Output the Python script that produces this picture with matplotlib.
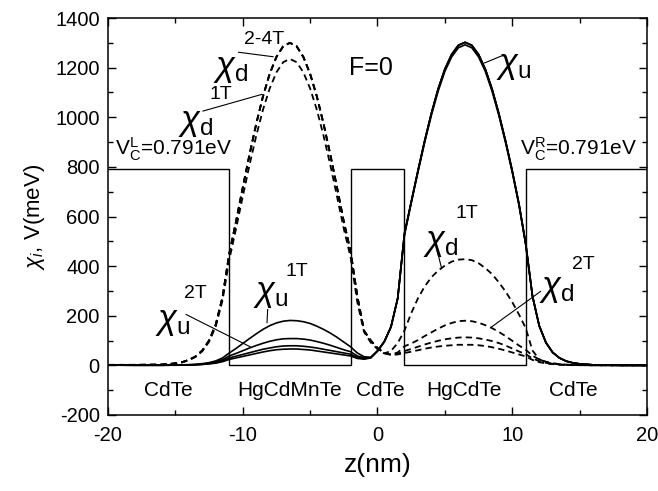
import matplotlib
matplotlib.use("Agg")
import matplotlib.pyplot as plt
from matplotlib.ticker import MultipleLocator

plt.rcParams['font.family'] = ['Liberation Sans', 'DejaVu Sans']
plt.rcParams['mathtext.fontset'] = 'custom'
plt.rcParams['mathtext.rm'] = 'Liberation Sans'
plt.rcParams['mathtext.it'] = 'Liberation Sans:italic'
plt.rcParams['mathtext.bf'] = 'Liberation Sans:bold'
plt.rcParams['axes.unicode_minus'] = False

# ---------------- data ----------------
z = [-20, -18, -16,
     -15, -14.5, -14, -13.5, -13, -12.5, -12, -11.5, -11,
     -10.5, -10, -9.5, -9, -8.5, -8, -7.5, -7, -6.5, -6, -5.5, -5, -4.5, -4, -3.5, -3, -2.5, -2,
     -1.5, -1, -0.5, 0, 0.5, 1, 1.5, 2,
     2.5, 3, 3.5, 4, 4.5, 5, 5.5, 6, 6.5, 7, 7.5, 8, 8.5, 9, 9.5, 10, 10.5, 11,
     11.5, 12, 12.5, 13, 13.5, 14, 14.5, 15,
     16, 18, 20]

# spin-down (dashed) densities
chi_d_1T = [2, 2, 3,
            7, 12, 21, 34, 57, 95, 157, 262, 425,
            550, 680, 807, 925, 1030, 1116, 1181, 1222, 1235, 1222, 1181, 1116, 1030, 925, 807, 680, 550, 437,
            255, 135, 92, 65, 48, 58, 90, 140,
            210, 270, 318, 355, 382, 402, 418, 426, 428, 424, 412, 392, 368, 335, 298, 255, 205, 150,
            60, 25, 12, 6, 3, 2, 1, 1,
            0.5, 0, 0]
chi_d_2T = [2, 2, 3,
            8, 13, 22, 36, 60, 100, 165, 275, 450,
            579, 716, 849, 973, 1084, 1175, 1243, 1286, 1300, 1286, 1243, 1175, 1084, 973, 849, 716, 579, 460,
            280, 140, 100, 70, 50, 44, 52, 77,
            88, 102, 118, 133, 148, 161, 171, 178, 180, 178, 172, 162, 150, 135, 118, 99, 80, 63,
            39, 24, 15, 9, 5, 3, 2, 1,
            0.5, 0, 0]
chi_d_3T = [2, 2, 3,
            8, 13, 22, 36, 60, 100, 165, 275, 450,
            579, 716, 849, 973, 1084, 1175, 1243, 1286, 1300, 1286, 1243, 1175, 1084, 973, 849, 716, 579, 460,
            280, 140, 100, 70, 50, 43, 47, 58,
            66, 75, 84, 92, 99, 105, 109, 112, 113, 112, 109, 104, 98, 90, 80, 68, 56, 45,
            28, 17, 10, 6, 4, 2, 1, 1,
            0.5, 0, 0]
chi_d_4T = [2, 2, 3,
            8, 13, 22, 36, 60, 100, 165, 275, 450,
            579, 716, 849, 973, 1084, 1175, 1243, 1286, 1300, 1286, 1243, 1175, 1084, 973, 849, 716, 579, 460,
            280, 140, 100, 70, 49, 42, 44, 50,
            55, 61, 67, 72, 76, 79, 81, 83, 83, 83, 81, 78, 73, 67, 60, 52, 44, 36,
            22, 13, 8, 5, 3, 2, 1, 1,
            0.5, 0, 0]

# spin-up (solid) densities
chi_u_1T = [1, 0.5, 0.5,
            1, 2, 3, 4, 7, 11, 18, 30, 50,
            68, 88, 108, 127, 145, 160, 171, 178, 181, 180, 176, 169, 158, 145, 130, 113, 94, 75,
            50, 35, 32, 58, 95, 155, 270, 525,
            653, 778, 898, 1008, 1105, 1185, 1243, 1280, 1292, 1280, 1243, 1185, 1105, 1008, 898, 778, 645, 486,
            278, 159, 91, 52, 30, 17, 10, 6,
            2, 0.5, 0.3]
chi_u_2T = [1, 0.5, 0.5,
            1, 1, 2, 3, 5, 9, 14, 23, 38,
            48, 59, 70, 80, 89, 97, 103, 107, 108, 108, 106, 102, 96, 89, 81, 72, 63, 55,
            38, 30, 32, 58, 95, 155, 270, 530,
            658, 784, 905, 1016, 1114, 1194, 1253, 1290, 1302, 1290, 1253, 1194, 1114, 1016, 905, 784, 650, 490,
            280, 160, 92, 52, 30, 17, 10, 6,
            2, 0.5, 0.3]
chi_u_3T = [1, 0.5, 0.5,
            1, 1, 2, 3, 4, 7, 11, 18, 30,
            37, 44, 51, 58, 65, 70, 75, 78, 79, 79, 77, 74, 70, 65, 60, 55, 50, 45,
            32, 27, 31, 58, 95, 155, 270, 530,
            658, 784, 905, 1016, 1114, 1194, 1253, 1290, 1302, 1290, 1253, 1194, 1114, 1016, 905, 784, 650, 490,
            280, 160, 92, 52, 30, 17, 10, 6,
            2, 0.5, 0.3]
chi_u_4T = [1, 0.5, 0.5,
            0.5, 1, 1, 2, 4, 6, 9, 15, 24,
            30, 36, 42, 48, 54, 59, 63, 65, 66, 66, 64, 62, 58, 54, 50, 46, 42, 38,
            28, 25, 30, 58, 95, 155, 270, 530,
            658, 784, 905, 1016, 1114, 1194, 1253, 1290, 1302, 1290, 1253, 1194, 1114, 1016, 905, 784, 650, 490,
            280, 160, 92, 52, 30, 17, 10, 6,
            2, 0.5, 0.3]

# conduction band profile (meV)
V_edges = [-20, -11, -2, 2, 11, 20]
V_levels = [791, 0, 791, 0, 791]

layer_names = ["CdTe", "HgCdMnTe", "CdTe", "HgCdTe", "CdTe"]
layer_pos = [-15.5, -6.5, 0.2, 6.4, 14.5]

# ---------------- figure ----------------
fig = plt.figure(figsize=(6.58, 4.91), dpi=100)
ax = fig.add_axes([0.1641, 0.1548, 0.9833 - 0.1641, 0.9633 - 0.1548])

ax.stairs(V_levels, V_edges, baseline=None, color='black', lw=1.0)

for c in (chi_u_4T, chi_u_3T, chi_u_2T, chi_u_1T):
    ax.plot(z, c, color='black', lw=1.2, solid_joinstyle='round')
for c in (chi_d_4T, chi_d_3T, chi_d_2T, chi_d_1T):
    ax.plot(z, c, color='black', lw=1.3, dashes=(3.5, 2.3))

ax.set_xlim(-20, 20)
ax.set_ylim(-200, 1400)
ax.xaxis.set_major_locator(MultipleLocator(10))
ax.xaxis.set_minor_locator(MultipleLocator(5))
ax.yaxis.set_major_locator(MultipleLocator(200))
ax.yaxis.set_minor_locator(MultipleLocator(100))
ax.tick_params(which='both', direction='in', top=True, right=True, width=1.0)
ax.tick_params(which='major', length=6, labelsize=14.5)
ax.tick_params(which='minor', length=3.5)
ax.tick_params(axis='y', which='major', pad=6)
ax.tick_params(axis='x', which='major', pad=8)
for s in ax.spines.values():
    s.set_linewidth(1.1)

ax.set_xlabel("z(nm)", fontsize=19, labelpad=6)
ax.set_ylabel(r"$\chi_{i}$, V(meV)", fontsize=16, labelpad=6)

for name, xp in zip(layer_names, layer_pos):
    ax.text(xp, -100, name, ha='center', va='center', fontsize=15)

ax.text(-0.5, 1200, "F=0", ha='center', va='center', fontsize=18)
ax.text(-19.5, 845, r"$\mathrm{V}_\mathrm{C}^\mathrm{L}$=0.791eV", ha='left', va='baseline', fontsize=15)
ax.text(19.3, 845, r"$\mathrm{V}_\mathrm{C}^\mathrm{R}$=0.791eV", ha='right', va='baseline', fontsize=15)

lab = dict(ha='center', va='center')
csz = 25
tsz = 14
# chi_d 2-4T (left well)
ax.text(-10.9, 1195, r"$\chi_\mathrm{d}$", fontsize=csz, **lab)
ax.text(-8.4, 1313, "2-4T", fontsize=tsz, **lab)
ax.plot([-10.3, -7.75], [1262, 1244], color='black', lw=0.8)
# chi_d 1T (left well)
ax.text(-13.5, 980, r"$\chi_\mathrm{d}$", fontsize=csz, **lab)
ax.text(-11.6, 1090, "1T", fontsize=tsz, **lab)
ax.plot([-12.95, -8.6], [1025, 1092], color='black', lw=0.8)
# chi_u (right well)
ax.text(10.1, 1210, r"$\chi_\mathrm{u}$", fontsize=csz, **lab)
ax.plot([9.2, 7.95], [1247, 1219], color='black', lw=0.8)
# chi_u 1T (left well)
ax.text(-7.9, 290, r"$\chi_\mathrm{u}$", fontsize=csz, **lab)
ax.text(-6.0, 380, "1T", fontsize=tsz, **lab)
ax.plot([-8.15, -8.2], [225, 172], color='black', lw=0.8)
# chi_u 2T (left well)
ax.text(-15.2, 175, r"$\chi_\mathrm{u}$", fontsize=csz, **lab)
ax.text(-13.5, 290, "2T", fontsize=tsz, **lab)
ax.plot([-14.2, -9.45], [205, 75], color='black', lw=0.8)
# chi_d 1T (right well)
ax.text(4.7, 495, r"$\chi_\mathrm{d}$", fontsize=csz, **lab)
ax.text(6.6, 612, "1T", fontsize=tsz, **lab)
ax.plot([4.4, 4.75], [468, 393], color='black', lw=0.8)
# chi_d 2T (right well)
ax.text(13.3, 310, r"$\chi_\mathrm{d}$", fontsize=csz, **lab)
ax.text(15.3, 405, "2T", fontsize=tsz, **lab)
ax.plot([12.1, 8.47], [298, 155], color='black', lw=0.8)

fig.savefig("out.png", dpi=100)
